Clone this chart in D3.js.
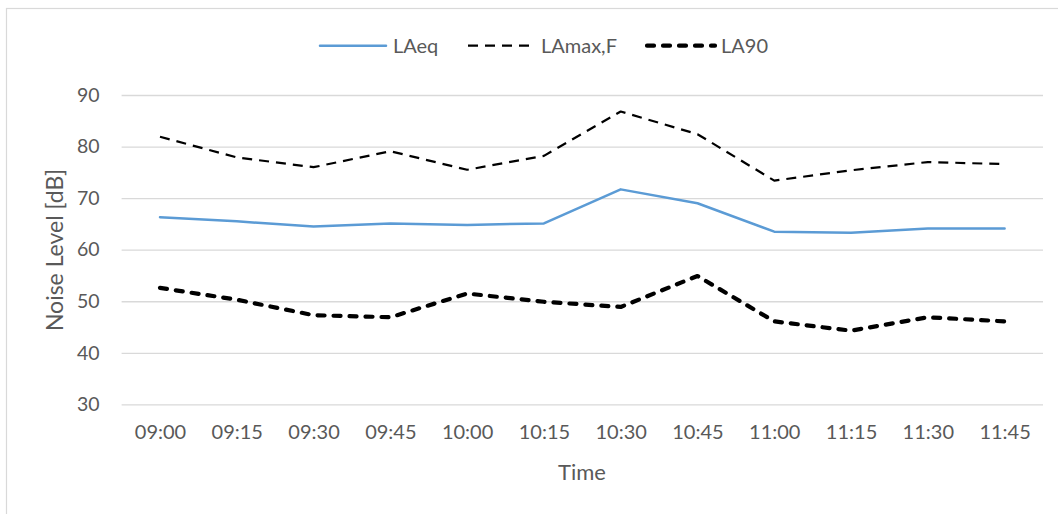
<!DOCTYPE html>
<html>
<head>
<meta charset="utf-8">
<script src="https://cdn.jsdelivr.net/npm/d3@7"></script>
<style>
  html, body { margin: 0; padding: 0; background: #fff; }
  svg { display: block; font-family: Lato, "Open Sans", sans-serif; }
</style>
</head>
<body>
<svg id="chart" width="1058" height="514"></svg>
<script>
// Measurement times (15-minute intervals)
const times = ["09:00", "09:15", "09:30", "09:45", "10:00", "10:15",
               "10:30", "10:45", "11:00", "11:15", "11:30", "11:45"];

// Noise levels in dB
const laeq  = [66.3, 65.5, 64.5, 65.1, 64.8, 65.1, 71.7, 69.0, 63.5, 63.3, 64.1, 64.1];
const lamax = [81.9, 77.9, 76.0, 79.1, 75.5, 78.2, 86.8, 82.4, 73.4, 75.4, 77.0, 76.6];
const la90  = [52.6, 50.3, 47.3, 46.9, 51.5, 49.9, 48.9, 54.9, 46.1, 44.3, 46.9, 46.1];

const yTicks = [30, 40, 50, 60, 70, 80, 90];

const seriesNames = ["LAeq", "LAmax,F", "LA90"];

const svg = d3.select("#chart");
const W = 1058, H = 514;
const plot = { left: 121.6, right: 1043, top: 95, bottom: 404.4 };
const textColor = "#595959";
const gridColor = "#d9d9d9";

// Chart frame
svg.append("rect")
  .attr("x", 6.5).attr("y", 8.5)
  .attr("width", W + 10).attr("height", H + 10)
  .attr("fill", "none").attr("stroke", gridColor).attr("stroke-width", 1.2);

const x = d3.scalePoint().domain(times).range([plot.left, plot.right]).padding(0.5);
const y = d3.scaleLinear().domain([30, 90]).range([plot.bottom, plot.top]);

// Horizontal gridlines + y labels
const yAxis = d3.axisLeft(y).tickValues(yTicks)
  .tickSize(-(plot.right - plot.left)).tickPadding(22).tickFormat(d3.format("d"));
const gy = svg.append("g").attr("transform", `translate(${plot.left},0)`).call(yAxis);
gy.select(".domain").remove();
gy.selectAll(".tick line").attr("stroke", gridColor).attr("stroke-width", 1.3);
gy.selectAll(".tick text").attr("fill", textColor).attr("font-size", 19.5)
  .attr("font-family", "Lato, 'Open Sans', sans-serif");

// X labels
const xAxis = d3.axisBottom(x).tickSize(0).tickPadding(20);
const gx = svg.append("g").attr("transform", `translate(0,${plot.bottom})`).call(xAxis);
gx.select(".domain").remove();
gx.selectAll(".tick text").attr("fill", textColor).attr("font-size", 20)
  .attr("font-family", "Lato, 'Open Sans', sans-serif");

// Axis titles
svg.append("text")
  .attr("x", 582).attr("y", 480)
  .attr("text-anchor", "middle").attr("fill", textColor).attr("font-size", 22)
  .text("Time");
svg.append("text")
  .attr("transform", `translate(63,250) rotate(-90)`)
  .attr("text-anchor", "middle").attr("fill", textColor).attr("font-size", 23)
  .text("Noise Level [dB]");

// Series styles
const styles = [
  { data: laeq,  color: "#5b9bd5", width: 2.5, dash: null, cap: "round" },
  { data: lamax, color: "#000000", width: 2.2, dash: "10,7", cap: "butt" },
  { data: la90,  color: "#000000", width: 4.2, dash: "7,9", cap: "round" }
];

const line = d3.line().x((d, i) => x(times[i])).y(d => y(d));

styles.forEach(s => {
  svg.append("path")
    .datum(s.data)
    .attr("d", line)
    .attr("fill", "none")
    .attr("stroke", s.color)
    .attr("stroke-width", s.width)
    .attr("stroke-linecap", s.cap)
    .attr("stroke-linejoin", "round")
    .attr("stroke-dasharray", s.dash);
});

// Legend
const legendItems = [
  { x0: 320, x1: 386, tx: 393 },
  { x0: 468, x1: 530, tx: 541 },
  { x0: 647, x1: 715, tx: 721 }
];
const legendY = 45.7;
legendItems.forEach((it, i) => {
  const s = styles[i];
  svg.append("line")
    .attr("x1", it.x0).attr("x2", it.x1)
    .attr("y1", legendY).attr("y2", legendY)
    .attr("stroke", s.color).attr("stroke-width", s.width)
    .attr("stroke-linecap", s.cap)
    .attr("stroke-dasharray", s.dash);
  svg.append("text")
    .attr("x", it.tx).attr("y", legendY)
    .attr("dy", "0.35em")
    .attr("fill", textColor).attr("font-size", 20)
    .text(seriesNames[i]);
});
</script>
</body>
</html>
